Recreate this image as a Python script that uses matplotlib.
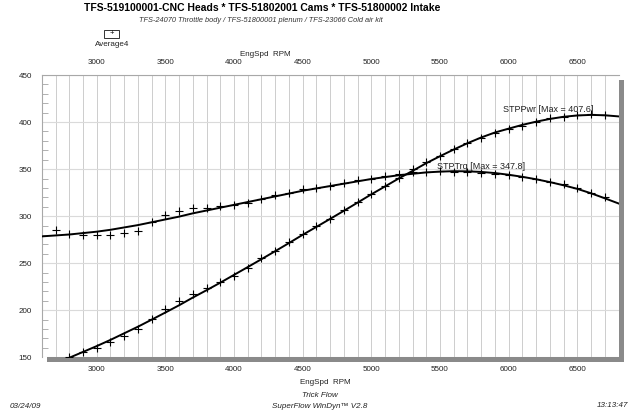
import numpy as np
import matplotlib
matplotlib.use("Agg")
import matplotlib.pyplot as plt
from matplotlib.ticker import MultipleLocator
from matplotlib.patches import Rectangle

plt.rcParams['font.family'] = ['Liberation Sans', 'DejaVu Sans']

# smoothed curves, every 100 rpm
rpm_line = list(range(2600, 6900, 100))
trq_line = [278.5, 279.5, 280.5, 282.0, 283.5, 285.5, 288.0, 290.5, 293.5, 296.5,
            299.5, 303.0, 306.0, 309.0, 312.0, 315.0, 318.0, 321.0, 324.0, 327.0,
            329.5, 332.0, 334.5, 337.0, 339.5, 341.5, 343.5, 345.0, 346.5, 347.3,
            347.8, 347.6, 347.0, 345.8, 344.0, 341.8, 339.2, 336.2, 332.8, 329.0,
            324.3, 319.0, 313.5]
pwr_line = [137.9, 143.7, 149.5, 155.7, 161.9, 168.5, 175.5, 182.5, 190.0, 197.6,
            205.3, 213.5, 221.3, 229.3, 237.6, 245.9, 254.3, 262.8, 271.4, 280.2,
            288.6, 297.1, 305.7, 314.4, 323.2, 331.6, 340.1, 348.1, 356.3, 363.7,
            370.8, 377.5, 383.6, 388.9, 393.0, 397.0, 400.4, 403.3, 405.6, 407.0,
            407.6, 407.2, 406.0]

# raw points (Average4)
rpm_trq_pts = list(range(2700, 6800, 100))
trq_pts = [285.0, 281.5, 280.0, 279.8, 280.0, 282.0, 284.5, 294.0, 301.5, 306.0,
           308.5, 309.0, 310.5, 312.0, 314.0, 318.5, 322.0, 325.0, 328.5, 330.0,
           332.5, 335.5, 338.0, 339.5, 342.5, 344.5, 346.5, 346.5, 347.5, 347.4,
           346.7, 345.6, 344.6, 343.8, 341.7, 339.6, 336.7, 334.0, 329.7, 324.4,
           320.0]
rpm_pwr_pts = list(range(2800, 6800, 100))
pwr_pts = [150.6, 155.9, 160.2, 166.5, 172.6, 179.7, 190.6, 201.3, 210.0, 217.2,
           224.0, 230.3, 236.6, 245.0, 255.0, 262.8, 272.0, 281.0, 289.4, 296.8,
           306.4, 315.2, 324.0, 331.8, 340.6, 350.6, 357.3, 364.0, 371.0, 377.5,
           382.8, 388.0, 392.3, 396.2, 400.5, 404.0, 405.8, 407.9, 408.6, 408.0]

W, H = 640, 411
fig = plt.figure(figsize=(W / 100, H / 100), dpi=100)

x0, x1, y0, y1 = 41.8, 618.5, 75.0, 357.3
# drop shadow behind the plot box
fig.patches.append(Rectangle(((x0 + 5) / W, 1 - (y1 + 5) / H), (x1 - x0) / W, (y1 - y0) / H,
                             transform=fig.transFigure, facecolor='#8a8a8a', edgecolor='none', zorder=0))
ax = fig.add_axes([x0 / W, 1 - y1 / H, (x1 - x0) / W, (y1 - y0) / H], zorder=1)
ax.set_facecolor('white')

ax.plot(rpm_line, trq_line, color='black', lw=1.4, zorder=3)
ax.plot(rpm_line, pwr_line, color='black', lw=1.4, zorder=3)
ax.plot(rpm_trq_pts, trq_pts, '+', color='black', ms=6, mew=0.8, zorder=4)
ax.plot(rpm_pwr_pts, pwr_pts, '+', color='black', ms=6, mew=0.8, zorder=4)

ax.set_xlim(2600, 6800)
ax.set_ylim(150, 450)
ax.xaxis.set_major_locator(MultipleLocator(500))
ax.xaxis.set_minor_locator(MultipleLocator(100))
ax.yaxis.set_major_locator(MultipleLocator(50))
ax.yaxis.set_minor_locator(MultipleLocator(10))
ax.grid(True, which='both', axis='x', color='#cdcdcd', lw=0.7)
ax.grid(True, which='major', axis='y', color='#dadada', lw=0.8)
ax.set_axisbelow(True)

ax.tick_params(axis='x', which='both', length=0, labelsize=5.8, labelcolor='#222222',
               top=True, labeltop=True, pad=5)
ax.tick_params(axis='x', which='major', pad=6.5)
ax.tick_params(axis='y', which='major', length=0, labelsize=5.8, labelcolor='#222222', pad=7)
ax.tick_params(axis='y', which='minor', length=4, direction='in', color='#b0b0b0', width=0.7)
for s in ['left', 'top']:
    ax.spines[s].set_color('#a8a8a8')
    ax.spines[s].set_linewidth(0.8)
for s in ['right', 'bottom']:
    ax.spines[s].set_visible(False)

ax.text(5800, 348.3, 'STPTrq [Max = 347.8]', fontsize=6.5, ha='center', va='bottom', color='#222222')
ax.text(6285, 408.2, 'STPPwr [Max = 407.6]', fontsize=6.5, ha='center', va='bottom', color='#222222')

# titles and footer
fig.text(262 / W, 1 - 8 / H, 'TFS-519100001-CNC Heads * TFS-51802001 Cams * TFS-51800002 Intake',
         fontsize=7.5, fontweight='bold', ha='center', va='center')
fig.text(261 / W, 1 - 20 / H, 'TFS-24070 Throttle body / TFS-51800001 plenum / TFS-23066 Cold air kit',
         fontsize=5.3, style='italic', ha='center', va='center', color='#333333')
fig.text(265 / W, 1 - 54 / H, 'EngSpd  RPM', fontsize=5.8, ha='center', va='center', color='#222222')
fig.text(325 / W, 1 - 382 / H, 'EngSpd  RPM', fontsize=5.8, ha='center', va='center', color='#222222')
fig.text(320 / W, 1 - 395.5 / H, 'Trick Flow', fontsize=5.8, style='italic', ha='center', va='center', color='#222222')
fig.text(320 / W, 1 - 406 / H, 'SuperFlow WinDyn\u2122 V2.8', fontsize=5.8, style='italic',
         ha='center', va='center', color='#222222')
fig.text(10 / W, 1 - 406 / H, '03/24/09', fontsize=5.8, style='italic', ha='left', va='center', color='#222222')
fig.text(628 / W, 1 - 405 / H, '13:13:47', fontsize=5.8, style='italic', ha='right', va='center', color='#222222')

# legend box
fig.patches.append(Rectangle((104 / W, 1 - 38 / H), 15 / W, 8 / H, transform=fig.transFigure,
                             facecolor='white', edgecolor='#333333', lw=0.7))
fig.text(111.5 / W, 1 - 34 / H, '+', fontsize=5.5, ha='center', va='center')
fig.text(112 / W, 1 - 44 / H, 'Average4', fontsize=5.8, ha='center', va='center', color='#222222')

fig.savefig('out.png', dpi=100, facecolor='white')
